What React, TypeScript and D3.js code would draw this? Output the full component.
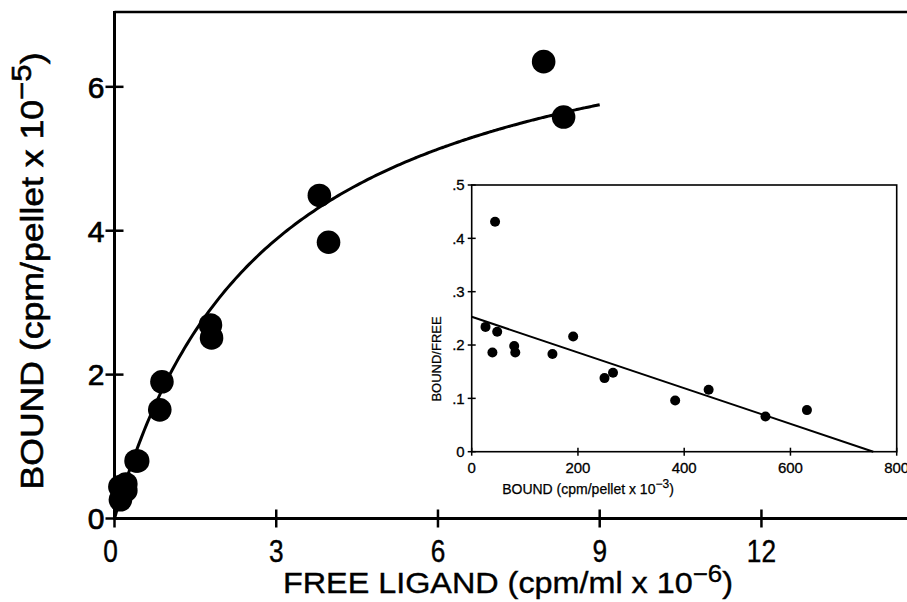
import React from "react";
import * as d3 from "d3";

// Main plot data (FREE LIGAND cpm/ml x 10^-6, BOUND cpm/pellet x 10^-5)
const freeLigand = [7.96, 8.33, 3.80, 3.97, 1.78, 1.80, 0.88, 0.84, 0.43, 0.40, 0.21, 0.10, 0.21, 0.11];
const bound = [6.35, 5.58, 4.49, 3.84, 2.69, 2.51, 1.90, 1.51, 0.80, 0.80, 0.48, 0.44, 0.39, 0.26];
const mainXTicks = [0, 3, 6, 9, 12];
const mainYTicks = [0, 2, 4, 6];
// Fitted saturation curve parameters
const fitBmax = 7.58;
const fitKd = 2.86;
const fitFreeMax = 9;

// Inset (Scatchard) data
const scatBound = [26, 39, 44, 48, 80, 82, 152, 191, 250, 266, 383, 446, 553, 631];
const scatRatio = [0.234, 0.186, 0.431, 0.225, 0.198, 0.186, 0.183, 0.216, 0.138, 0.148, 0.096, 0.116, 0.066, 0.078];
const insetXTicks = [0, 200, 400, 600, 800];
const insetYTicks = [0, 0.1, 0.2, 0.3, 0.4, 0.5];
const insetYTickLabels = ["0", ".1", ".2", ".3", ".4", ".5"];
const lineIntercept = 0.253;
const lineXIntercept = 756;

const W = 907;
const H = 602;

export default function App() {
  const x = d3.scaleLinear().domain([0, 14.7]).range([114.5, 907]);
  const y = d3.scaleLinear().domain([0, 7.04]).range([518.5, 12]);

  const curveX = d3.range(0, fitFreeMax + 0.0001, 0.05);
  const curve = d3
    .line<number>()
    .x((f) => x(f))
    .y((f) => y((fitBmax * f) / (fitKd + f)))
    .curve(d3.curveMonotoneX)(curveX);

  const ix = d3.scaleLinear().domain([0, 800]).range([471.7, 896.7]);
  const iy = d3.scaleLinear().domain([0, 0.5]).range([451.7, 185]);

  const mainFont = "'Liberation Sans', Arial, sans-serif";

  return (
    <svg
      width={W}
      height={H}
      style={{ position: "absolute", left: 0, top: 0, background: "#fff" }}
    >
      <rect x={0} y={0} width={W} height={H} fill="#fff" />
      {/* main frame */}
      <line x1={x(0)} x2={W} y1={y(7.04)} y2={y(7.04)} stroke="#000" strokeWidth={2.5} />
      <line x1={x(0)} x2={x(0)} y1={y(7.04) - 1} y2={y(0) + 1.5} stroke="#000" strokeWidth={3} />
      <line x1={x(0) - 1} x2={W} y1={y(0)} y2={y(0)} stroke="#000" strokeWidth={3} />
      {mainXTicks.map((t) => (
        <g key={"mx" + t}>
          <line x1={x(t)} x2={x(t)} y1={y(0) - 9} y2={y(0) + 9} stroke="#000" strokeWidth={2.5} />
          <text
            transform={`translate(${x(t) - (t === 0 ? 4 : 0)}, ${y(0) + 43}) scale(0.82, 1)`}
            textAnchor="middle"
            fontFamily={mainFont}
            fontSize={32}
            stroke="#000"
            strokeWidth={0.4}
          >
            {t}
          </text>
        </g>
      ))}
      {mainYTicks.map((t) => (
        <g key={"my" + t}>
          <line x1={x(0) - 9} x2={x(0) + 9} y1={y(t)} y2={y(t)} stroke="#000" strokeWidth={2.5} />
          <text
            x={x(0) - 10}
            y={y(t)}
            dy="0.36em"
            textAnchor="end"
            fontFamily={mainFont}
            fontSize={30}
            stroke="#000"
            strokeWidth={0.7}
          >
            {t}
          </text>
        </g>
      ))}
      <text
        x={508}
        y={593}
        textAnchor="middle"
        fontFamily={mainFont}
        fontSize={30}
        textLength={450}
        lengthAdjust="spacingAndGlyphs"
        stroke="#000"
        strokeWidth={0.4}
      >
        FREE LIGAND (cpm/ml x 10
        <tspan dy={-11} fontSize={24}>−6</tspan>
        <tspan dy={11}>)</tspan>
      </text>
      <text
        transform={`translate(43, 271) rotate(-90)`}
        textAnchor="middle"
        fontFamily={mainFont}
        fontSize={32}
        textLength={437}
        lengthAdjust="spacingAndGlyphs"
        stroke="#000"
        strokeWidth={0.6}
      >
        BOUND (cpm/pellet x 10
        <tspan dy={-12} fontSize={28}>−5</tspan>
        <tspan dy={12}>)</tspan>
      </text>
      {/* fitted curve */}
      <path d={curve ?? ""} fill="none" stroke="#000" strokeWidth={3} />
      {freeLigand.map((f, i) => (
        <circle key={"p" + i} cx={x(f)} cy={y(bound[i])} r={11.8} fill="#000" />
      ))}

      {/* inset */}
      <rect
        x={ix(0)}
        y={iy(0.5)}
        width={ix(800) - ix(0)}
        height={iy(0) - iy(0.5)}
        fill="#fff"
        stroke="#000"
        strokeWidth={1.6}
      />
      {insetXTicks.map((t) => (
        <g key={"ix" + t}>
          <line x1={ix(t)} x2={ix(t)} y1={iy(0) - 4} y2={iy(0) + 4} stroke="#000" strokeWidth={1.5} />
          <text
            x={ix(t)}
            y={iy(0) + 21}
            textAnchor="middle"
            fontFamily={mainFont}
            fontSize={15}
            stroke="#000"
            strokeWidth={0.3}
          >
            {t}
          </text>
        </g>
      ))}
      {insetYTicks.map((t, i) => (
        <g key={"iy" + t}>
          <line x1={ix(0) - 4} x2={ix(0) + 4} y1={iy(t)} y2={iy(t)} stroke="#000" strokeWidth={1.5} />
          <text
            x={ix(0) - 7}
            y={iy(t)}
            dy="0.36em"
            textAnchor="end"
            fontFamily={mainFont}
            fontSize={15}
            stroke="#000"
            strokeWidth={0.3}
          >
            {insetYTickLabels[i]}
          </text>
        </g>
      ))}
      <text
        x={588}
        y={494}
        textAnchor="middle"
        fontFamily={mainFont}
        fontSize={14}
        stroke="#000"
        strokeWidth={0.25}
      >
        BOUND (cpm/pellet x 10
        <tspan dy={-6} fontSize={12}>−3</tspan>
        <tspan dy={6}>)</tspan>
      </text>
      <text
        transform={`translate(441, 359) rotate(-90)`}
        textAnchor="middle"
        fontFamily={mainFont}
        fontSize={13}
        stroke="#000"
        strokeWidth={0.25}
      >
        BOUND/FREE
      </text>
      <line
        x1={ix(0)}
        y1={iy(lineIntercept)}
        x2={ix(lineXIntercept)}
        y2={iy(0)}
        stroke="#000"
        strokeWidth={2}
      />
      {scatBound.map((b, i) => (
        <circle key={"s" + i} cx={ix(b)} cy={iy(scatRatio[i])} r={5} fill="#000" />
      ))}
    </svg>
  );
}
